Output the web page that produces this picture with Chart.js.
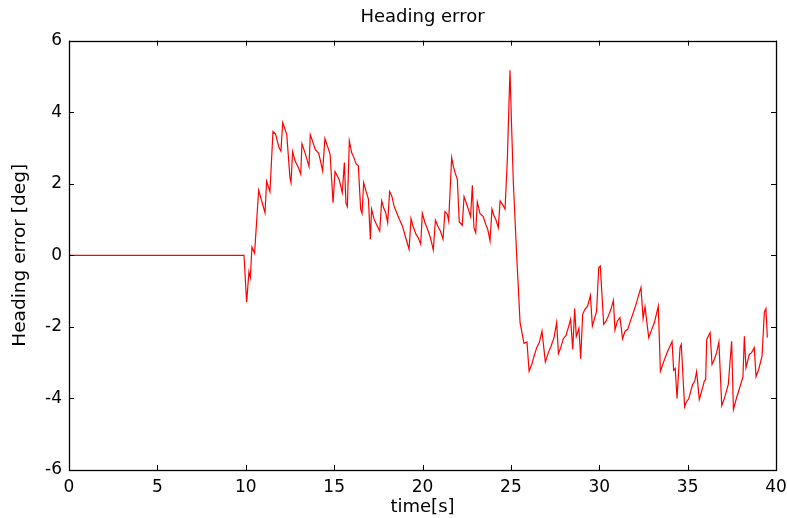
<!DOCTYPE html>
<html>
<head>
<meta charset="utf-8">
<script src="https://cdn.jsdelivr.net/npm/chart.js@4/dist/chart.umd.min.js"></script>
<style>
  html, body { margin: 0; padding: 0; background: #ffffff; }
  #wrap { width: 787px; height: 518px; }
</style>
</head>
<body>
<div id="wrap"><canvas id="c" width="787" height="518"></canvas></div>
<script>
// ---- data ----
const chartTitle = "Heading error";
const xLabel = "time[s]";
const yLabel = "Heading error [deg]";
const xTicks = [0, 5, 10, 15, 20, 25, 30, 35, 40];
const yTicks = [-6, -4, -2, 0, 2, 4, 6];

const times = [
  0, 9.90, 10.05, 10.18, 10.26, 10.35, 10.50, 10.73, 11.09, 11.18, 11.37, 11.54, 11.69, 11.88, 11.99,
  12.09, 12.32, 12.50, 12.56, 12.65, 12.79, 12.98, 13.11, 13.18, 13.35, 13.58, 13.65, 13.79, 13.94,
  14.13, 14.35, 14.48, 14.77, 14.94, 15.05, 15.29, 15.46, 15.58, 15.67, 15.75, 15.86,
  15.99, 16.12, 16.24, 16.37, 16.50, 16.58, 16.67, 16.80, 16.94, 17.05, 17.12, 17.26, 17.44, 17.58,
  17.69, 17.80, 17.92, 18.03, 18.14, 18.26, 18.39, 18.54, 18.69, 18.86, 19.05, 19.24, 19.35, 19.46,
  19.63, 19.76, 19.90, 19.99, 20.14, 20.27, 20.42, 20.52, 20.61, 20.73, 20.86, 21.01, 21.16, 21.27,
  21.40, 21.48, 21.65,
  21.74, 21.84, 21.97, 22.08, 22.25, 22.35, 22.46, 22.59, 22.72, 22.82, 22.91, 23.01, 23.10, 23.25,
  23.44, 23.57, 23.69, 23.82, 23.93, 24.05, 24.14, 24.29, 24.39, 24.54, 24.67, 24.80, 24.95, 25.04,
  25.14, 25.33, 25.52, 25.74, 25.91, 26.03, 26.18, 26.31, 26.46, 26.61, 26.76, 26.95, 27.12, 27.27,
  27.44, 27.59,
  27.69, 27.82, 27.97, 28.12, 28.25, 28.38, 28.50, 28.61, 28.70, 28.85, 28.95, 29.06, 29.19, 29.34,
  29.50, 29.61, 29.72, 29.85, 29.97, 30.06, 30.25, 30.38, 30.51, 30.66, 30.80, 30.89, 31.02, 31.17,
  31.32, 31.46, 31.61, 31.76, 31.93, 32.08, 32.25, 32.36, 32.48, 32.59, 32.80, 32.97, 33.12, 33.34,
  33.46,
  33.63, 33.76, 33.87, 34.00, 34.12, 34.21, 34.30, 34.40, 34.57, 34.64, 34.83, 34.91, 35.06, 35.28,
  35.40, 35.51, 35.66, 35.85, 35.94, 36.02, 36.08, 36.19, 36.27, 36.38, 36.51, 36.64, 36.77, 36.93,
  37.11, 37.30, 37.49, 37.59, 37.74, 38.00, 38.13, 38.21, 38.30, 38.49, 38.62, 38.77, 38.87, 39.02,
  39.21, 39.34, 39.43, 39.51
];

const headingError = [
  0, 0, -1.31, -0.46, -0.62, 0.23, 0.06, 1.82, 1.19, 2.07, 1.78, 3.46, 3.38, 3.01, 2.91,
  3.71, 3.38, 2.17, 2.03, 2.90, 2.64, 2.45, 2.27, 3.12, 2.87, 2.48, 3.37, 3.17, 2.95,
  2.85, 2.36, 3.26, 2.83, 1.47, 2.34, 2.11, 1.75, 2.59, 1.45, 1.36, 3.20,
  2.87, 2.73, 2.56, 2.50, 1.29, 1.17, 2.03, 1.80, 1.57, 0.45, 1.29, 1.01, 0.82, 0.68,
  1.52, 1.33, 1.19, 0.91, 1.78, 1.66, 1.38, 1.19, 1.01, 0.82, 0.49, 0.17, 1.03, 0.82,
  0.59, 0.49, 0.31, 1.17, 0.91, 0.75, 0.54, 0.35, 0.15, 0.98, 0.82, 0.68, 0.45, 1.22,
  1.15, 0.96, 2.73,
  2.50, 2.31, 2.13, 0.93, 0.84, 1.64, 1.49, 1.29, 1.08, 1.96, 0.77, 0.63, 1.49, 1.17,
  1.08, 0.87, 0.73, 0.40, 1.29, 1.10, 1.01, 0.77, 1.52, 1.41, 1.29, 2.69, 5.17, 3.62,
  2.03, -0.02, -1.88, -2.46, -2.42, -3.24, -3.05, -2.82, -2.58, -2.44, -2.12, -2.98, -2.72, -2.54,
  -2.30, -1.88,
  -2.75, -2.58, -2.33, -2.24, -2.02, -1.79, -2.63, -1.49, -2.27, -2.04, -2.89, -1.65, -1.51, -1.42,
  -1.12, -1.98, -1.79, -1.56, -0.34, -0.30, -1.93, -1.84, -1.70, -1.51, -1.26, -2.09, -1.84, -1.74,
  -2.33, -2.12, -2.07, -1.84, -1.60, -1.37, -1.07, -0.90, -1.77, -1.44, -2.30, -2.07, -1.88, -1.42,
  -3.24,
  -3.00, -2.82, -2.68, -2.54, -2.41, -3.21, -3.16, -4.00, -2.58, -2.49, -4.23, -4.12, -4.01, -3.61,
  -3.52, -3.25, -4.03, -3.70, -3.52, -3.47, -2.35, -2.24, -2.16, -3.05, -2.91, -2.72, -2.42, -4.20,
  -3.95, -3.61, -2.40, -4.31, -4.03, -3.61, -3.40, -2.26, -3.14, -2.77, -2.72, -2.58, -3.39, -3.19,
  -2.82, -1.59, -1.49, -2.30
];

// ---- chart ----
const points = times.map((t, i) => ({ x: t, y: headingError[i] }));
const FONT = "'DejaVu Sans', sans-serif";

const boxTicks = {
  id: 'boxTicks',
  afterDraw(chart) {
    const { ctx, chartArea: a, scales } = chart;
    const xs = scales.x, ys = scales.y;
    const L = 5;
    ctx.save();
    ctx.strokeStyle = '#000000';
    ctx.lineWidth = 1;
    ctx.beginPath();
    xTicks.forEach(v => {
      const px = Math.round(xs.getPixelForValue(v)) + 0.5;
      ctx.moveTo(px, a.bottom); ctx.lineTo(px, a.bottom - L);
      ctx.moveTo(px, a.top); ctx.lineTo(px, a.top + L);
    });
    yTicks.forEach(v => {
      const py = Math.round(ys.getPixelForValue(v)) + 0.5;
      ctx.moveTo(a.left, py); ctx.lineTo(a.left + L, py);
      ctx.moveTo(a.right, py); ctx.lineTo(a.right - L, py);
    });
    ctx.stroke();
    ctx.lineWidth = 1.3;
    ctx.strokeRect(Math.round(a.left) + 0.5, Math.round(a.top) + 0.5,
                   Math.round(a.right - a.left), Math.round(a.bottom - a.top));
    ctx.restore();
  }
};

const whiteBg = {
  id: 'whiteBg',
  beforeDraw(chart) {
    const ctx = chart.ctx;
    ctx.save();
    ctx.fillStyle = '#ffffff';
    ctx.fillRect(0, 0, chart.width, chart.height);
    ctx.restore();
  }
};

new Chart(document.getElementById('c'), {
  type: 'line',
  data: {
    datasets: [{
      data: points,
      borderColor: '#ff0000',
      borderWidth: 1.2,
      pointRadius: 0,
      tension: 0,
      fill: false
    }]
  },
  options: {
    responsive: false,
    animation: false,
    layout: { padding: { left: 0, right: 11, top: 0, bottom: 0 } },
    plugins: {
      legend: { display: false },
      tooltip: { enabled: false },
      title: {
        display: true,
        fullSize: false,
        text: chartTitle,
        color: '#000000',
        font: { family: FONT, size: 18, weight: 'normal' },
        padding: { top: 7, bottom: 12 }
      }
    },
    scales: {
      x: {
        type: 'linear',
        min: 0, max: 40,
        afterBuildTicks: s => { s.ticks = xTicks.map(v => ({ value: v })); },
        afterFit: s => { s.height = 48; s.paddingLeft = 0; s.paddingRight = 0; },
        grid: { display: false, drawTicks: false },
        border: { display: false },
        ticks: { color: '#000000', padding: 7, maxRotation: 0, font: { family: FONT, size: 17 } },
        title: {
          display: true, text: xLabel, color: '#000000',
          font: { family: FONT, size: 18 },
          padding: { top: 0, bottom: 0 }
        }
      },
      y: {
        type: 'linear',
        min: -6, max: 6,
        afterBuildTicks: s => { s.ticks = yTicks.map(v => ({ value: v })); },
        afterFit: s => { s.width = 69; s.paddingTop = 0; s.paddingBottom = 0; },
        grid: { display: false, drawTicks: false },
        border: { display: false },
        ticks: { color: '#000000', padding: 7, font: { family: FONT, size: 17 } },
        title: {
          display: true, text: yLabel, color: '#000000',
          font: { family: FONT, size: 18.5 },
          padding: { top: 9, bottom: 0 }
        }
      }
    }
  },
  plugins: [whiteBg, boxTicks]
});
</script>
</body>
</html>
